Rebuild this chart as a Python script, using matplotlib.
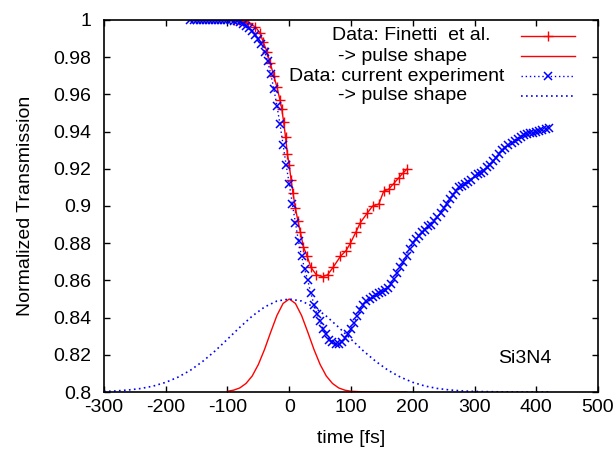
import matplotlib
matplotlib.use("Agg")
import matplotlib.pyplot as plt
from matplotlib.lines import Line2D
from matplotlib.ticker import FuncFormatter, MultipleLocator

plt.rcParams["font.family"] = ["Liberation Sans", "DejaVu Sans"]
plt.rcParams["font.size"] = 14
plt.rcParams["axes.unicode_minus"] = False

# Data: Finetti et al. (red +)
finetti_t = [-90, -82, -75, -66, -55, -47, -42, -36, -31, -25, -20, -15, -12, -9, -6, -3,
             0, 3, 6, 10, 14, 18, 23, 29, 35, 44, 54, 62, 71, 83, 92, 99, 108, 115,
             126, 135, 145, 153, 161, 169, 177, 185, 191]
finetti_T = [1.0, 0.9998, 0.9993, 0.9982, 0.9964, 0.9928, 0.988, 0.983, 0.977, 0.970,
             0.964, 0.957, 0.952, 0.945, 0.937, 0.928, 0.922, 0.914, 0.907, 0.899,
             0.892, 0.886, 0.878, 0.873, 0.867, 0.863, 0.862, 0.863, 0.867, 0.873,
             0.876, 0.880, 0.886, 0.891, 0.896, 0.900, 0.901, 0.908, 0.909, 0.912,
             0.915, 0.918, 0.920]

# Finetti pulse shape (red solid)
finetti_pulse_t = [-100, -90, -80, -70, -60, -50, -40, -30, -20, -10, 0, 10, 20, 30, 40,
                   50, 60, 70, 80, 90, 100, 120, 150, 190]
finetti_pulse_T = [0.8004, 0.8010, 0.8022, 0.8046, 0.8086, 0.8148, 0.8229, 0.8322, 0.8411,
                   0.8476, 0.8500, 0.8476, 0.8411, 0.8322, 0.8229, 0.8148, 0.8086, 0.8046,
                   0.8022, 0.8010, 0.8004, 0.8001, 0.8000, 0.8000]

# Data: current experiment (blue x), every 5 fs from -160 to 420
current_t = list(range(-160, 421, 5))
current_T = [1.0, 1.0, 1.0, 1.0, 1.0, 1.0, 1.0, 1.0, 1.0, 1.0, 1.0, 1.0, 0.9999, 0.9998,
             0.9995, 0.9992, 0.9988, 0.998, 0.997, 0.9957, 0.994, 0.992, 0.990, 0.987,
             0.983, 0.978, 0.971, 0.963, 0.954, 0.944, 0.933, 0.922, 0.912, 0.901,
             0.891, 0.881, 0.873, 0.866, 0.860, 0.853, 0.847, 0.842, 0.838, 0.834,
             0.831, 0.828, 0.827, 0.826, 0.826, 0.827, 0.829, 0.831, 0.834, 0.837,
             0.841, 0.844, 0.847, 0.849, 0.850, 0.851, 0.852, 0.853, 0.854, 0.855,
             0.856, 0.858, 0.861, 0.864, 0.867, 0.870, 0.873, 0.877, 0.880, 0.882,
             0.884, 0.886, 0.887, 0.889, 0.890, 0.892, 0.894, 0.896, 0.899, 0.901,
             0.904, 0.906, 0.908, 0.910, 0.911, 0.912, 0.913, 0.914, 0.916, 0.917,
             0.918, 0.919, 0.921, 0.922, 0.924, 0.926, 0.928, 0.930, 0.931, 0.933,
             0.934, 0.935, 0.936, 0.937, 0.938, 0.9385, 0.939, 0.9395, 0.940, 0.9405,
             0.941, 0.9415, 0.942]

# current experiment pulse shape (blue dotted)
current_pulse_t = [-300, -280, -260, -240, -220, -200, -180, -160, -140, -120, -100, -80,
                   -60, -40, -20, 0, 20, 40, 60, 80, 100, 120, 140, 160, 180, 200, 220,
                   240, 260, 280, 300, 340, 380, 420]
current_pulse_T = [0.8003, 0.8006, 0.8011, 0.8019, 0.8032, 0.8052, 0.8080, 0.8117, 0.8165,
                   0.8221, 0.8284, 0.8348, 0.8408, 0.8457, 0.8489, 0.8500, 0.8489, 0.8457,
                   0.8408, 0.8348, 0.8284, 0.8221, 0.8165, 0.8117, 0.8080, 0.8052, 0.8032,
                   0.8019, 0.8011, 0.8006, 0.8003, 0.8001, 0.8000, 0.8000]

labels = ["Data: Finetti  et al.", "-> pulse shape", "Data: current experiment", "-> pulse shape"]

fig = plt.figure(figsize=(6.16, 4.51), dpi=100)
ax = fig.add_axes([0.1688, 0.1308, 0.8020, 0.8249])

dot = (0, (1, 2))
red_data = dict(color="#ff0000", lw=1, marker="+", ms=7, mew=1)
red_line = dict(color="#ff0000", lw=1)
blue_data = dict(color="#0000ff", lw=1, ls=dot, marker="x", ms=5.5, mew=1.1)
blue_line = dict(color="#0000ff", lw=1.2, ls=dot)

ax.plot(finetti_t, finetti_T, **red_data)
ax.plot(finetti_pulse_t, finetti_pulse_T, **red_line)
ax.plot(current_t, current_T, **blue_data)
ax.plot(current_pulse_t, current_pulse_T, **blue_line)

ax.set_xlim(-300, 500)
ax.set_ylim(0.8, 1.0)
ax.xaxis.set_major_locator(MultipleLocator(100))
ax.yaxis.set_major_locator(MultipleLocator(0.02))
ax.yaxis.set_major_formatter(FuncFormatter(lambda v, p: f"{round(v, 4):g}"))
ax.tick_params(direction="in", length=4.5, width=1, top=True, right=True)
ax.tick_params(axis="y", pad=9)
ax.tick_params(axis="x", pad=5)
for s in ax.spines.values():
    s.set_linewidth(1.2)

ax.set_xlabel("time [fs]", labelpad=10)
ax.set_ylabel("Normalized Transmission", labelpad=14)

# gnuplot-like key: text then sample line
styles = [red_data, red_line, blue_data, blue_line]
text_x = [0.621, 0.605, 0.593, 0.605]
rows = [0.957, 0.903, 0.849, 0.796]
for lab, st, tx, ry in zip(labels, styles, text_x, rows):
    ax.text(tx, ry, lab, transform=ax.transAxes, ha="center", va="center")
    line_st = {k: v for k, v in st.items() if k not in ("marker", "ms", "mew")}
    ax.add_line(Line2D([0.844, 0.953], [ry, ry], transform=ax.transAxes, **line_st))
    if "marker" in st:
        ax.add_line(Line2D([0.899], [ry], transform=ax.transAxes, ls="none",
                           color=st["color"], marker=st["marker"], ms=st["ms"], mew=st["mew"]))

ax.text(0.852, 0.091, "Si3N4", transform=ax.transAxes, ha="center", va="center")

fig.savefig("out.png", dpi=100)
